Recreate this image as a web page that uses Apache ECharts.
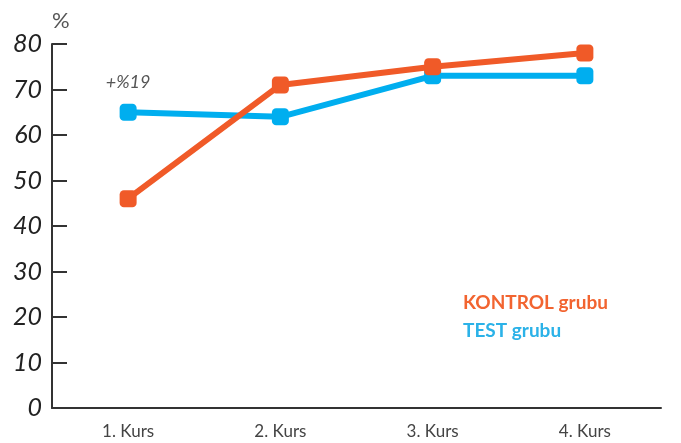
<!DOCTYPE html>
<html>
<head>
<meta charset="utf-8">
<script src="https://cdn.jsdelivr.net/npm/echarts@6/dist/echarts.min.js"></script>
<style>
  html, body { margin: 0; padding: 0; background: #fff; }
  #main { width: 681px; height: 443px; }
</style>
</head>
<body>
<div id="main"></div>
<script>
var kurslar = ['1. Kurs', '2. Kurs', '3. Kurs', '4. Kurs'];
var kontrolGrubu = [46, 71, 75, 78];
var testGrubu = [65, 64, 73, 73];
var fark = '+%19';

var myChart = echarts.init(document.getElementById('main'));

// test serisinin ilk noktasina fark etiketi
var testData = testGrubu.map(function (v, i) {
    if (i == 0) {
        return {
            value: v,
            label: {
                show: true,
                position: 'top',
                distance: 13,
                formatter: fark,
                fontSize: 18,
                fontStyle: 'italic',
                color: '#555',
                fontFamily: 'Lato'
            }
        };
    }
    return v;
});

var option = {
    animation: false,
    grid: { left: 52, right: 20, top: 44, bottom: 35 },
    legend: {
        orient: 'vertical',
        left: 458,
        top: 288,
        icon: 'none',
        itemWidth: 0,
        itemGap: 9,
        selectedMode: false,
        textStyle: { fontSize: 19, fontWeight: 'bold', fontFamily: 'Lato', padding: [0, 0, 0, -5] },
        data: [
            { name: 'KONTROL grubu', textStyle: { color: '#F26430' } },
            { name: 'TEST grubu', textStyle: { color: '#2BB2E8' } }
        ]
    },
    xAxis: {
        type: 'category',
        data: kurslar,
        boundaryGap: true,
        axisLine: { lineStyle: { color: '#333', width: 2 } },
        axisTick: { inside: true, length: 8, lineStyle: { color: '#333', width: 1.5 } },
        axisLabel: { color: '#444', fontSize: 17, fontFamily: 'Lato', margin: 15 }
    },
    yAxis: {
        type: 'value',
        min: 0,
        max: 80,
        interval: 10,
        name: '%',
        nameGap: 12,
        nameTextStyle: { color: '#555', fontSize: 22, fontFamily: 'Lato', align: 'left' },
        splitLine: { show: false },
        axisLine: { show: true, lineStyle: { color: '#333', width: 2 } },
        axisTick: { show: true, inside: true, length: 15, lineStyle: { color: '#333', width: 2 } },
        axisLabel: { color: '#222', fontSize: 25, fontStyle: 'italic', fontFamily: 'Lato', margin: 10 }
    },
    series: [
        {
            name: 'KONTROL grubu',
            type: 'line',
            data: kontrolGrubu,
            symbol: 'roundRect',
            symbolSize: 17,
            itemStyle: { color: '#F05A28' },
            lineStyle: { width: 6, color: '#F05A28' },
            z: 3
        },
        {
            name: 'TEST grubu',
            type: 'line',
            data: testData,
            symbol: 'roundRect',
            symbolSize: 17,
            itemStyle: { color: '#00AEEF' },
            lineStyle: { width: 6, color: '#00AEEF' },
            z: 2
        }
    ]
};

myChart.setOption(option, true);
</script>
</body>
</html>
